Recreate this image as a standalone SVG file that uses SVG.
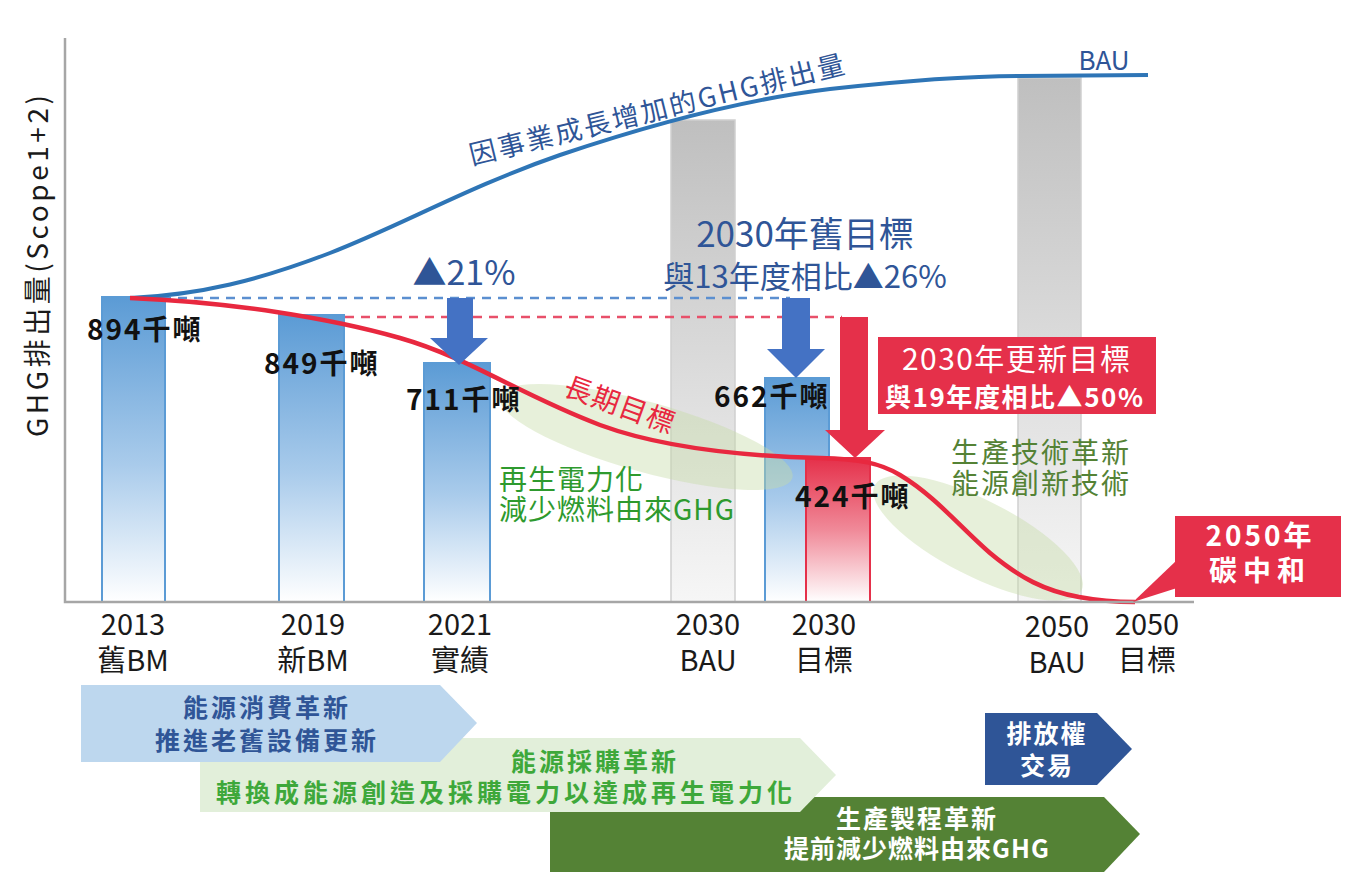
<svg xmlns="http://www.w3.org/2000/svg" width="1360" height="880" viewBox="0 0 1360 880">
<defs>
<linearGradient id="gBlue" x1="0" y1="0" x2="0" y2="1"><stop offset="0" stop-color="#5b9bd5"/><stop offset="0.55" stop-color="#a9cbeb"/><stop offset="1" stop-color="#ffffff"/></linearGradient>
<linearGradient id="gRed" x1="0" y1="0" x2="0" y2="1"><stop offset="0" stop-color="#e5304a"/><stop offset="0.5" stop-color="#f08a99"/><stop offset="1" stop-color="#ffffff"/></linearGradient>
<linearGradient id="gGray" x1="0" y1="0" x2="0" y2="1"><stop offset="0" stop-color="#bfbfbf"/><stop offset="1" stop-color="#f6f6f6"/></linearGradient>
<style>
text{font-family:"Noto Sans CJK TC","Noto Sans CJK JP",sans-serif}
.bb{fill:url(#gBlue);stroke:#5b9bd5;stroke-width:2}
.rb{fill:url(#gRed);stroke:#e5304a;stroke-width:2}
.gb{fill:url(#gGray);stroke:#cfcfcf;stroke-width:1.5}
.ell{fill:#c6dba6;opacity:0.42}
.axis{fill:none;stroke:#a6a6a6;stroke-width:2.5}
.yr{font-size:29px;fill:#1a1a1a;text-anchor:middle}
.val{font-size:28px;fill:#111;font-weight:700;letter-spacing:2px}
.dk{fill:#2f5597}
.wt{fill:#ffffff}
.mid{text-anchor:middle}
</style>
</defs>
<rect width="1360" height="880" fill="#ffffff"/>

<g id="bars">
<rect id="bar-2030bau" class="gb" x="671" y="120" width="64" height="482"/>
<rect id="bar-2050bau" class="gb" x="1018" y="78" width="63" height="524"/>
<rect id="bar-2013" class="bb" x="102" y="297" width="63" height="305"/>
<rect id="bar-2019" class="bb" x="279" y="315" width="65" height="287"/>
<rect id="bar-2021" class="bb" x="424" y="363" width="66" height="239"/>
<rect id="bar-2030t" class="bb" x="765" y="378" width="64" height="224"/>
<rect id="bar-2030new" class="rb" x="806" y="458" width="64" height="144"/>
</g>

<g id="zones">
<ellipse class="ell" cx="646" cy="437" rx="152" ry="35" transform="rotate(15.6 646 437)"/>
<ellipse class="ell" cx="978" cy="538" rx="116" ry="38" transform="rotate(27 978 538)"/>
</g>

<g id="connectors">
<line x1="130" y1="298" x2="790" y2="298" stroke="#5b8fd0" stroke-width="2.5" stroke-dasharray="9 7"/>
<line x1="345" y1="317" x2="842" y2="317" stroke="#e8506a" stroke-width="2.5" stroke-dasharray="9 7"/>
<path id="bau-curve" d="M130,298 C200,295 260,280 330,253 C400,226 470,186 560,155 C640,128 740,100 830,89 C920,79 980,76 1020,76 L1148,75" fill="none" stroke="#2e75b6" stroke-width="4"/>
<path id="target-curve" d="M130,298 C230,302 330,318 400,338 C470,358 520,395 600,425 C660,447 740,456 820,458 C860,459 880,463 900,475 C935,496 960,527 990,553 C1020,578 1045,591 1079,597 C1100,601 1120,602 1135,602" fill="none" stroke="#e8283f" stroke-width="4.5"/>
<polygon id="arrow-2021" points="447,298 473,298 473,338 488,338 459,365 430,338 447,338" fill="#4472c4"/>
<polygon id="arrow-2030old" points="782,298 810,298 810,349 825,349 796,378 767,349 782,349" fill="#4472c4"/>
<polygon id="arrow-2030new" points="840,317 868,317 868,430 885,430 855,458 825,430 840,430" fill="#e5304a"/>
</g>

<g id="axes">
<polyline class="axis" points="65,38 65,602 1194,602"/>
</g>

<g id="y-label">
<text x="0" y="0" font-size="28" fill="#1a1a1a" text-anchor="middle" textLength="342" lengthAdjust="spacing" transform="translate(48,266) rotate(-90)">GHG排出量(Scope1+2)</text>
</g>

<g id="curve-labels">
<text x="472" y="165" font-size="27" fill="#2f5597" textLength="385" lengthAdjust="spacing" transform="rotate(-13.8 472 165)">因事業成長增加的GHG排出量</text>
<text x="1104" y="70" font-size="26" fill="#2f5597" text-anchor="middle">BAU</text>
<text x="620" y="415" font-size="28" fill="#e8283f" text-anchor="middle" letter-spacing="1" transform="rotate(20 620 405)">長期目標</text>
</g>

<g id="value-labels">
<text class="val" x="87" y="340" font-weight="500">894千噸</text>
<text class="val" x="264" y="374" font-weight="500">849千噸</text>
<text class="val" x="406" y="410">711千噸</text>
<text class="val" x="714" y="407">662千噸</text>
<text class="val" x="795" y="507">424千噸</text>
</g>

<g id="reduction-labels">
<text x="464" y="285" font-size="34" class="dk mid">▲21%</text>
<text class="dk mid"><tspan x="805" y="247" font-size="35">2030年舊目標</tspan><tspan x="805" y="288" font-size="31">與13年度相比▲26%</tspan></text>
</g>

<g id="box-2030">
<rect x="878" y="337" width="278" height="77" fill="#e5304a"/>
<text class="wt mid"><tspan x="1016" y="370" font-size="30" textLength="228" lengthAdjust="spacing">2030年更新目標</tspan><tspan x="1014" y="407" font-size="26" font-weight="700" textLength="258" lengthAdjust="spacing">與19年度相比▲50%</tspan></text>
</g>

<g id="box-2050">
<polygon points="1133,602 1177,560 1177,588" fill="#e5304a"/>
<rect x="1175" y="516" width="166" height="81" fill="#e5304a"/>
<text class="wt mid" font-size="28" font-weight="700"><tspan x="1260" y="546" letter-spacing="3">2050年</tspan><tspan x="1260" y="581" letter-spacing="6">碳中和</tspan></text>
</g>

<g id="green-notes">
<text font-size="28" fill="#2e9a2e" letter-spacing="1"><tspan x="499" y="490">再生電力化</tspan><tspan x="499" y="520">減少燃料由來GHG</tspan></text>
<text font-size="28" fill="#548235" letter-spacing="2"><tspan x="951" y="463">生產技術革新</tspan><tspan x="951" y="494">能源創新技術</tspan></text>
</g>

<g id="x-labels">
<text class="yr"><tspan x="133" y="635">2013</tspan><tspan x="133" y="671">舊BM</tspan></text>
<text class="yr"><tspan x="313" y="635">2019</tspan><tspan x="313" y="671">新BM</tspan></text>
<text class="yr"><tspan x="460" y="635">2021</tspan><tspan x="460" y="671">實績</tspan></text>
<text class="yr"><tspan x="708" y="635">2030</tspan><tspan x="708" y="671">BAU</tspan></text>
<text class="yr"><tspan x="824" y="635">2030</tspan><tspan x="824" y="671">目標</tspan></text>
<text class="yr"><tspan x="1057" y="637">2050</tspan><tspan x="1057" y="673">BAU</tspan></text>
<text class="yr"><tspan x="1147" y="635">2050</tspan><tspan x="1147" y="671">目標</tspan></text>
</g>

<g id="arrow-production">
<polygon points="550,797 1104,797 1140,834 1104,872 550,872" fill="#548235"/>
<text font-size="25" class="wt mid" font-weight="700"><tspan x="917" y="828" letter-spacing="2">生產製程革新</tspan><tspan x="917" y="858" letter-spacing="1">提前減少燃料由來GHG</tspan></text>
</g>

<g id="arrow-procurement">
<polygon points="200,738 800,738 836,775 800,812 200,812" fill="#e2efda"/>
<text font-size="25" fill="#3ea83a" class="mid" font-weight="700"><tspan x="595" y="771" letter-spacing="3">能源採購革新</tspan><tspan x="506" y="802" letter-spacing="4">轉換成能源創造及採購電力以達成再生電力化</tspan></text>
</g>

<g id="arrow-consumption">
<polygon points="81,685 440,685 477,723 440,762 81,762" fill="#bdd7ee"/>
<text font-size="25" class="dk mid" font-weight="700" letter-spacing="3"><tspan x="267" y="717">能源消費革新</tspan><tspan x="267" y="750">推進老舊設備更新</tspan></text>
</g>

<g id="arrow-trading">
<polygon points="985,713 1097,713 1132,749 1097,785 985,785" fill="#2f5597"/>
<text font-size="25" class="wt mid" font-weight="700" letter-spacing="2"><tspan x="1047" y="743">排放權</tspan><tspan x="1047" y="775">交易</tspan></text>
</g>
</svg>
